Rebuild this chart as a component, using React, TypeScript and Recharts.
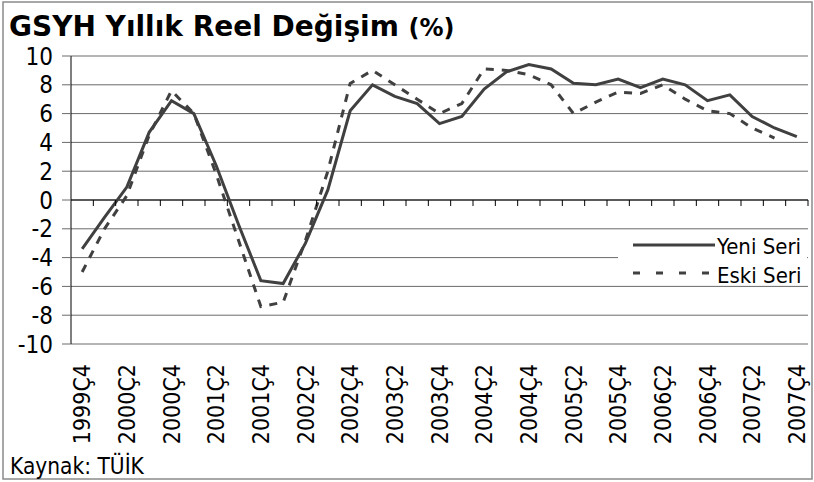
import { LineChart, Line, XAxis, YAxis, CartesianGrid, ReferenceLine } from 'recharts';

const quarters = [
  '1999Ç4', '2000Ç1', '2000Ç2', '2000Ç3', '2000Ç4', '2001Ç1', '2001Ç2', '2001Ç3', '2001Ç4',
  '2002Ç1', '2002Ç2', '2002Ç3', '2002Ç4', '2003Ç1', '2003Ç2', '2003Ç3', '2003Ç4',
  '2004Ç1', '2004Ç2', '2004Ç3', '2004Ç4', '2005Ç1', '2005Ç2', '2005Ç3', '2005Ç4',
  '2006Ç1', '2006Ç2', '2006Ç3', '2006Ç4', '2007Ç1', '2007Ç2', '2007Ç3', '2007Ç4',
];

// Yeni Seri (new series)
const yeni = [
  -3.4, -1.2, 0.9, 4.7, 6.9, 6.0, 2.4, -1.7, -5.6, -5.8, -3.0, 0.7, 6.2, 8.0, 7.2, 6.7, 5.3,
  5.8, 7.7, 8.9, 9.4, 9.1, 8.1, 8.0, 8.4, 7.8, 8.4, 8.0, 6.9, 7.3, 5.8, 5.0, 4.4,
];

// Eski Seri (old series), ends at 2007Ç3
const eski: (number | null)[] = [
  -5.0, -2.0, 0.3, 4.5, 7.6, 6.0, 1.8, -2.8, -7.4, -7.1, -2.8, 2.0, 8.1, 9.0, 8.0, 7.0, 6.0,
  6.7, 9.1, 9.0, 8.7, 8.0, 6.0, 6.8, 7.5, 7.4, 8.0, 7.0, 6.2, 6.0, 5.0, 4.3, null,
];

const yTicks = [-10, -8, -6, -4, -2, 0, 2, 4, 6, 8, 10];
const labelIdx = quarters.map((_, i) => i).filter(i => i % 2 === 0);

const data = quarters.map((q, i) => ({ i, q, yeni: yeni[i], eski: eski[i] }));

const W = 814;
const H = 482;
const M = { top: 56, right: 6, left: 0, bottom: 0 };
const Y_AXIS_W = 71;
const X_AXIS_H = 138;

const FONT = 'DejaVu Sans';
const COND = 'DejaVu Sans Condensed';
const LINE = '#404040';

function QuarterTick({ x, y, payload }: any) {
  return (
    <text
      transform={`translate(${x},${y + 20}) rotate(-90)`}
      textAnchor="end"
      dy="0.36em"
      fontSize={23}
      fontFamily={COND}
      fill="#000"
    >
      {quarters[payload.value]}
    </text>
  );
}

export default function App() {
  // plot box, to hang the between-category tick marks off the zero line
  const left = M.left + Y_AXIS_W;
  const right = W - M.right;
  const top = M.top;
  const bottom = H - M.bottom - X_AXIS_H;
  const zeroY = (top + bottom) / 2; // domain is symmetric (-10..10)
  const step = (right - left) / quarters.length;

  return (
    <div style={{ position: 'absolute', left: 0, top: 0, width: W, height: H, background: '#fff' }}>
      <LineChart width={W} height={H} data={data} margin={M}>
        <CartesianGrid vertical={false} stroke="#6a6a6a" strokeWidth={1} />
        <XAxis
          dataKey="i"
          type="number"
          domain={[-0.5, 32.5]}
          ticks={labelIdx}
          interval={0}
          height={X_AXIS_H}
          axisLine={false}
          tickLine={false}
          tickSize={0}
          tickMargin={0}
          tick={<QuarterTick />}
        />
        <YAxis
          domain={[-10, 10]}
          ticks={yTicks}
          interval={0}
          width={Y_AXIS_W}
          tickSize={9}
          tickMargin={9}
          axisLine={{ stroke: '#000' }}
          tickLine={{ stroke: '#6a6a6a' }}
          tick={{ fontSize: 24, fontFamily: COND, fill: '#000' }}
        />
        <ReferenceLine y={0} stroke="#000" strokeWidth={1.2} />
        <Line dataKey="eski" type="linear" stroke={LINE} strokeWidth={3} strokeDasharray="8 8" dot={false} isAnimationActive={false} />
        <Line dataKey="yeni" type="linear" stroke={LINE} strokeWidth={3} dot={false} isAnimationActive={false} />
      </LineChart>
      <svg width={W} height={H} style={{ position: 'absolute', left: 0, top: 0, pointerEvents: 'none' }}>
        {quarters.map((_, k) => {
          const bx = left + (k + 1) * step;
          return <line key={k} x1={bx} x2={bx} y1={zeroY} y2={zeroY + 6} stroke="#000" strokeWidth={1} />;
        })}
        <rect x={3} y={2} width={809} height={477} fill="none" stroke="#8a8a8a" strokeWidth={1.5} />
        <text x={9} y={36} fontFamily={FONT} fontWeight="bold" fill="#000">
          <tspan fontSize={28}>GSYH Yıllık Reel Değişim </tspan>
          <tspan fontSize={24}>(%)</tspan>
        </text>
        <text x={10} y={474} fontFamily={COND} fontSize={22.5} fill="#000">
          Kaynak: TÜİK
        </text>
        <rect x={618} y={232} width={189} height={52} fill="#fff" />
        <line x1={633} y1={245} x2={715} y2={245} stroke={LINE} strokeWidth={3} />
        <text x={717} y={254} fontFamily={COND} fontSize={22} fill="#000">Yeni Seri</text>
        <line x1={633} y1={273} x2={715} y2={273} stroke={LINE} strokeWidth={3} strokeDasharray="7 16" />
        <text x={717} y={283} fontFamily={COND} fontSize={22} fill="#000">Eski Seri</text>
      </svg>
    </div>
  );
}
